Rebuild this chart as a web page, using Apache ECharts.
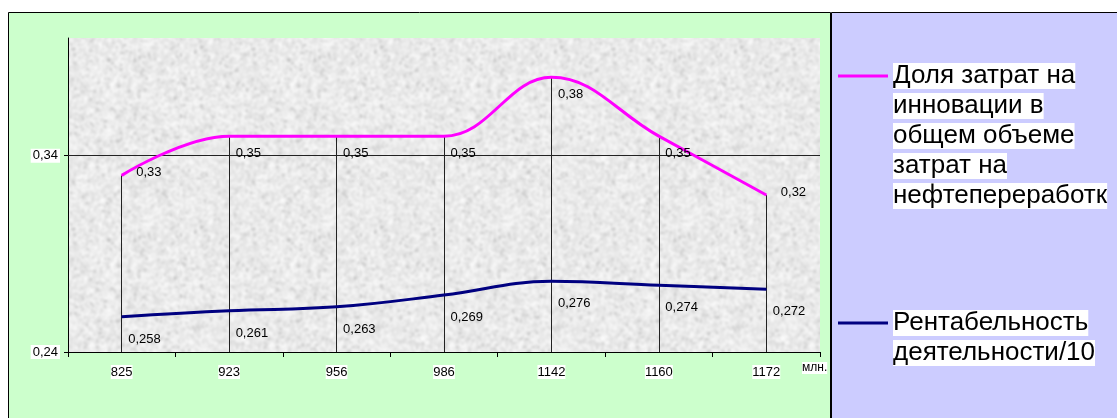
<!DOCTYPE html>
<html>
<head>
<meta charset="utf-8">
<script src="https://cdn.jsdelivr.net/npm/echarts@6/dist/echarts.min.js"></script>
<style>
  html, body { margin: 0; padding: 0; background: #fff; }
  #chart { width: 1117px; height: 418px; }
</style>
</head>
<body>
<div id="chart"></div>
<script>
// выпуск, млн.
const categories = ['825', '923', '956', '986', '1142', '1160', '1172'];
// доля затрат на инновации
const innovationShare = [0.33, 0.35, 0.35, 0.35, 0.38, 0.35, 0.32];
// рентабельность / 10
const profitability = [0.258, 0.261, 0.263, 0.269, 0.276, 0.274, 0.272];
const yTicks = [0.24, 0.34];
const gridValue = 0.34;
const nameShare = 'Доля затрат на\nинновации в\nобщем объеме\nзатрат на\nнефтепереработк';
const nameProfit = 'Рентабельность\nдеятельности/10';

const FONT = 'Liberation Sans';
const yMin = 0.24, yMax = 0.4;

function fmt(v, d) {
    return v.toFixed(d).replace('.', ',');
}

// серая "шумная" подложка области построения
function makeTexture() {
    const N = 90, S = 2;
    const raw = document.createElement('canvas');
    raw.width = N; raw.height = N;
    const rctx = raw.getContext('2d');
    const img = rctx.createImageData(N, N);
    for (let i = 0; i < img.data.length; i += 4) {
        let g = 236 + (Math.random() - 0.5) * 36;
        if (Math.random() < 0.07) g -= 35;
        g = Math.max(170, Math.min(255, g));
        img.data[i] = img.data[i + 1] = img.data[i + 2] = g;
        img.data[i + 3] = 255;
    }
    rctx.putImageData(img, 0, 0);
    const c = document.createElement('canvas');
    c.width = N * S; c.height = N * S;
    const ctx = c.getContext('2d');
    ctx.fillStyle = '#e8e8e8';
    ctx.fillRect(0, 0, c.width, c.height);
    ctx.imageSmoothingEnabled = true;
    ctx.filter = 'blur(1px)';
    for (let dx = -1; dx <= 1; dx++) {
        for (let dy = -1; dy <= 1; dy++) {
            ctx.drawImage(raw, dx * N * S, dy * N * S, N * S, N * S);
        }
    }
    return c;
}

function legendRich(name) {
    return name.split('\n').map(s => '{w|' + s + '}').join('\n');
}

function legendFor(name, top) {
    const lines = name.split('\n').length;
    return {
        data: [name],
        left: 838,
        top: top,
        padding: 0,
        orient: 'vertical',
        icon: 'rect',
        itemWidth: 50,
        itemHeight: 3,
        itemGap: 0,
        selectedMode: false,
        formatter: legendRich,
        textStyle: {
            // сдвиг, чтобы значок стоял против первой строки
            padding: [(lines - 1) * 30, 0, 0, 0],
            lineHeight: 30,
            rich: {
                w: {
                    fontFamily: FONT,
                    fontSize: 26,
                    lineHeight: 30,
                    color: '#000',
                    backgroundColor: '#fff'
                }
            }
        }
    };
}

const last = innovationShare.length - 1;
const shareData = innovationShare.map((v, i) =>
    (i === 0 || i === last) ? {value: v, label: {position: [15, -2]}} : v
);

const dropLines = innovationShare.map((v, i) => [
    {coord: [categories[i], v]},
    {coord: [categories[i], yMin]}
]);

const chart = echarts.init(document.getElementById('chart'));
const option = {
    animation: false,
    backgroundColor: '#fff',
    textStyle: {fontFamily: FONT},
    graphic: {
        elements: [
            {type: 'rect', z: -10, shape: {x: 8.5, y: 12.5, width: 822, height: 430},
             style: {fill: '#CCFFCC', stroke: '#000', lineWidth: 1}},
            {type: 'rect', z: -10, shape: {x: 831.5, y: 12.5, width: 300, height: 430},
             style: {fill: '#CCCCFF', stroke: '#000', lineWidth: 1}}
        ]
    },
    grid: {
        show: true,
        left: 68,
        right: 297,
        top: 38,
        bottom: 66,
        borderWidth: 0,
        backgroundColor: {image: makeTexture(), repeat: 'repeat'}
    },
    legend: [
        legendFor(nameShare, -59),
        legendFor(nameProfit, 278)
    ],
    xAxis: {
        type: 'category',
        data: categories,
        boundaryGap: true,
        name: '{a|млн.}',
        nameLocation: 'end',
        nameGap: -18,
        nameTextStyle: {
            align: 'left',
            verticalAlign: 'top',
            padding: [10, 0, 0, 0],
            rich: {a: {fontFamily: FONT, fontSize: 12, color: '#000', backgroundColor: '#fff'}}
        },
        axisLine: {lineStyle: {color: '#000', width: 1}},
        axisTick: {show: true, length: 5, lineStyle: {color: '#000'}},
        axisLabel: {
            color: '#000',
            fontFamily: FONT,
            fontSize: 13,
            margin: 13,
            backgroundColor: '#fff',
            padding: [1, 0, 0, 0]
        },
        splitLine: {show: false}
    },
    yAxis: {
        type: 'value',
        min: yMin,
        max: yMax,
        interval: 0.1,
        axisLine: {show: true, lineStyle: {color: '#000', width: 1}},
        axisTick: {show: true, length: 4, customValues: yTicks, lineStyle: {color: '#000'}},
        axisLabel: {
            customValues: yTicks,
            color: '#000',
            fontFamily: FONT,
            fontSize: 13,
            margin: 8,
            backgroundColor: '#fff',
            padding: [1, 2, 0, 2],
            formatter: v => fmt(v, 2)
        },
        splitLine: {show: false}
    },
    series: [
        {
            name: nameShare,
            type: 'line',
            smooth: 0.4,
            z: 3,
            data: shareData,
            symbol: 'circle',
            symbolSize: 1,
            lineStyle: {color: '#FF00FF', width: 3},
            itemStyle: {color: '#FF00FF'},
            label: {
                show: true,
                position: [7, 18],
                align: 'left',
                verticalAlign: 'middle',
                fontFamily: FONT,
                fontSize: 13,
                color: '#000',
                formatter: p => fmt(p.value, 2)
            },
            markLine: {
                silent: true,
                symbol: 'none',
                z: 1,
                label: {show: false},
                lineStyle: {color: '#222', width: 1, type: 'solid'},
                data: dropLines.concat([{yAxis: gridValue}])
            }
        },
        {
            name: nameProfit,
            type: 'line',
            smooth: 0.4,
            z: 4,
            data: profitability,
            symbol: 'circle',
            symbolSize: 1,
            lineStyle: {color: '#000080', width: 3},
            itemStyle: {color: '#000080'},
            label: {
                show: true,
                position: [7, 23],
                align: 'left',
                verticalAlign: 'middle',
                fontFamily: FONT,
                fontSize: 13,
                color: '#000',
                formatter: p => fmt(p.value, 3)
            }
        }
    ]
};
chart.setOption(option);
</script>
</body>
</html>
